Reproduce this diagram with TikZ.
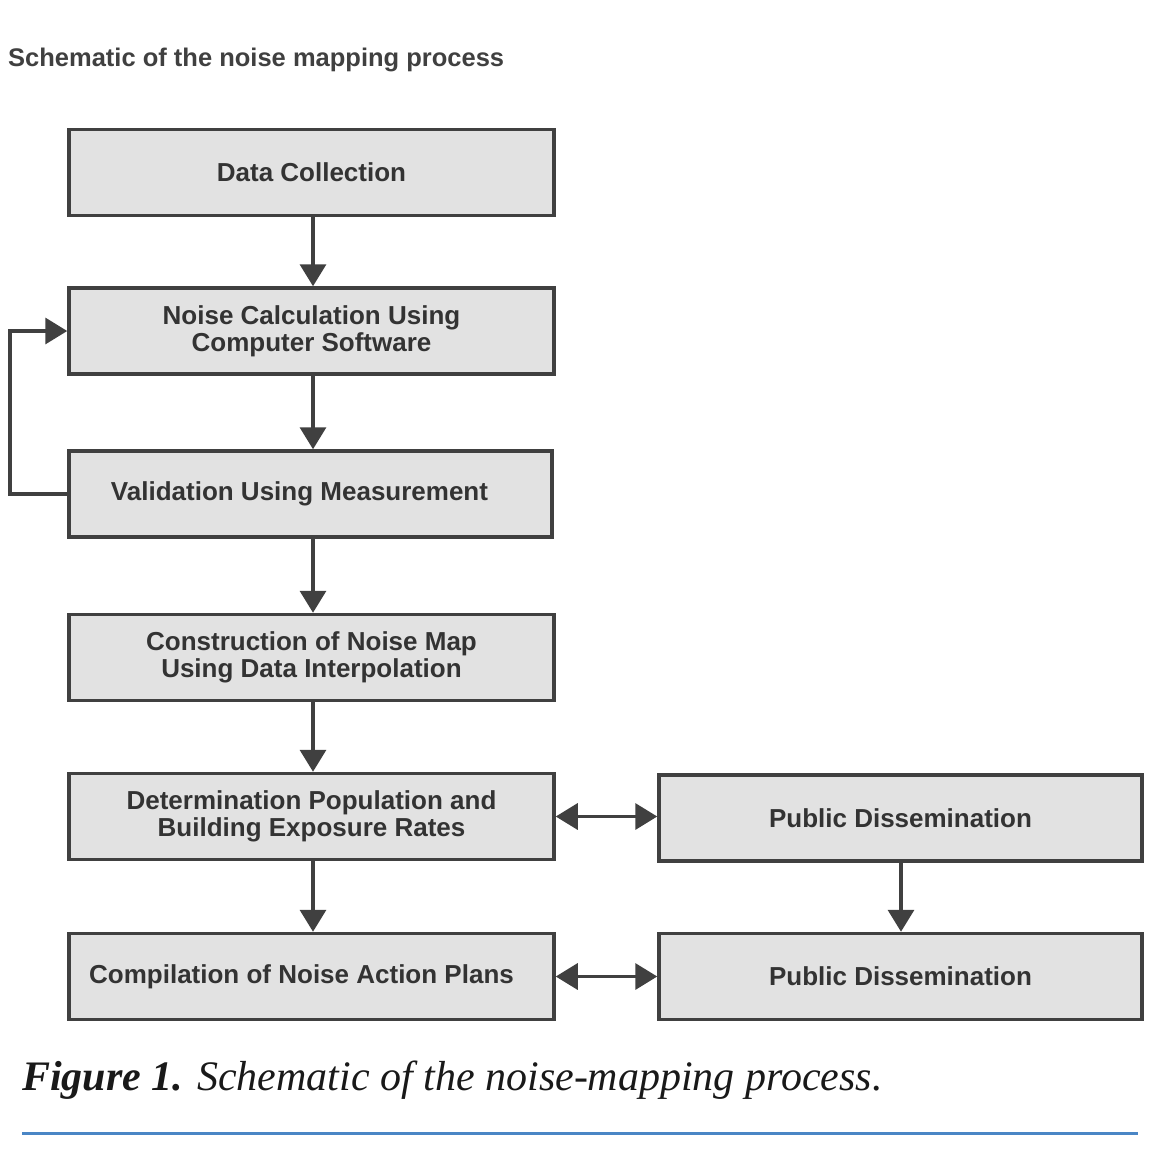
\documentclass[tikz,border=0pt]{standalone}
\usepackage{fontspec}
\setmainfont{Liberation Sans}
\newfontfamily\capfont{Liberation Serif}
\usetikzlibrary{arrows.meta}
\definecolor{boxfill}{RGB}{226,226,226}
\definecolor{boxline}{RGB}{64,64,64}
\definecolor{rulecol}{RGB}{74,134,197}
\tikzset{
  stage/.style={draw=boxline,fill=boxfill,line width=3.5pt,minimum width=485pt,minimum height=86pt,
    align=center,font=\fontsize{26}{27}\selectfont\bfseries,text=black!80,inner sep=0pt},
  flow/.style={draw=boxline,line width=3.5pt,-{Triangle[length=22pt,width=26pt]}},
  both/.style={draw=boxline,line width=3.5pt,{Triangle[length=22pt,width=26pt]}-{Triangle[length=22pt,width=26pt]}}
}
\begin{document}
\begin{tikzpicture}[x=1pt,y=1pt,yscale=-1]
\useasboundingbox (0,0) rectangle (1160,1160);

% Title
\node[anchor=west,inner sep=0pt,text=black!75,font=\fontsize{25.5}{28}\selectfont\bfseries] (title) at (8,60) {Schematic of the noise mapping process};

% Stages
\node[stage] (collect) at (311.5,172.5) {Data Collection};
\node[stage] (calc) at (311.5,331) {Noise Calculation Using\\Computer Software};
\node[stage,minimum width=483pt] (valid) at (310.5,494) {\hspace*{-22pt}Validation Using Measurement};
\node[stage] (construct) at (311.5,657.5) {Construction of Noise Map\\Using Data Interpolation};
\node[stage] (determine) at (311.5,816.5) {Determination Population and\\Building Exposure Rates};
\node[stage] (compile) at (311.5,976.5) {\hspace*{-20pt}Compilation of Noise Action Plans};
\node[stage,minimum width=483pt] (public1) at (900.5,818) {Public Dissemination};
\node[stage,minimum width=483pt] (public2) at (900.5,976.5) {Public Dissemination};

% Connections
\draw[flow] (collect.south -| 313,0) -- (calc.north -| 313,0);
\draw[flow] (calc.south -| 313,0) -- (valid.north -| 313,0);
\draw[flow] (valid.south -| 313,0) -- (construct.north -| 313,0);
\draw[flow] (construct.south -| 313,0) -- (determine.north -| 313,0);
\draw[flow] (determine.south -| 313,0) -- (compile.north -| 313,0);
\draw[flow] (public1.south -| 901,0) -- (public2.north -| 901,0);
\draw[both] (determine.east) -- (public1.west |- determine.east);
\draw[both] (compile.east) -- (public2.west);
\coordinate (loopA) at (10,494);
\coordinate (loopB) at (10,331);
\draw[flow] (valid.west) -- (loopA) -- (loopB) -- (calc.west);

% Caption
\node[anchor=west,inner sep=0pt,font=\capfont\fontsize{42}{46}\selectfont\itshape,text=black!90] (caption) at (22,1080) {\textbf{Figure 1.} Schematic of the noise-mapping process.};
\coordinate (ruleL) at (22,1133);
\coordinate (ruleR) at (1138,1133);
\draw[rulecol,line width=3pt] (ruleL) -- (ruleR);
\end{tikzpicture}
\end{document}
